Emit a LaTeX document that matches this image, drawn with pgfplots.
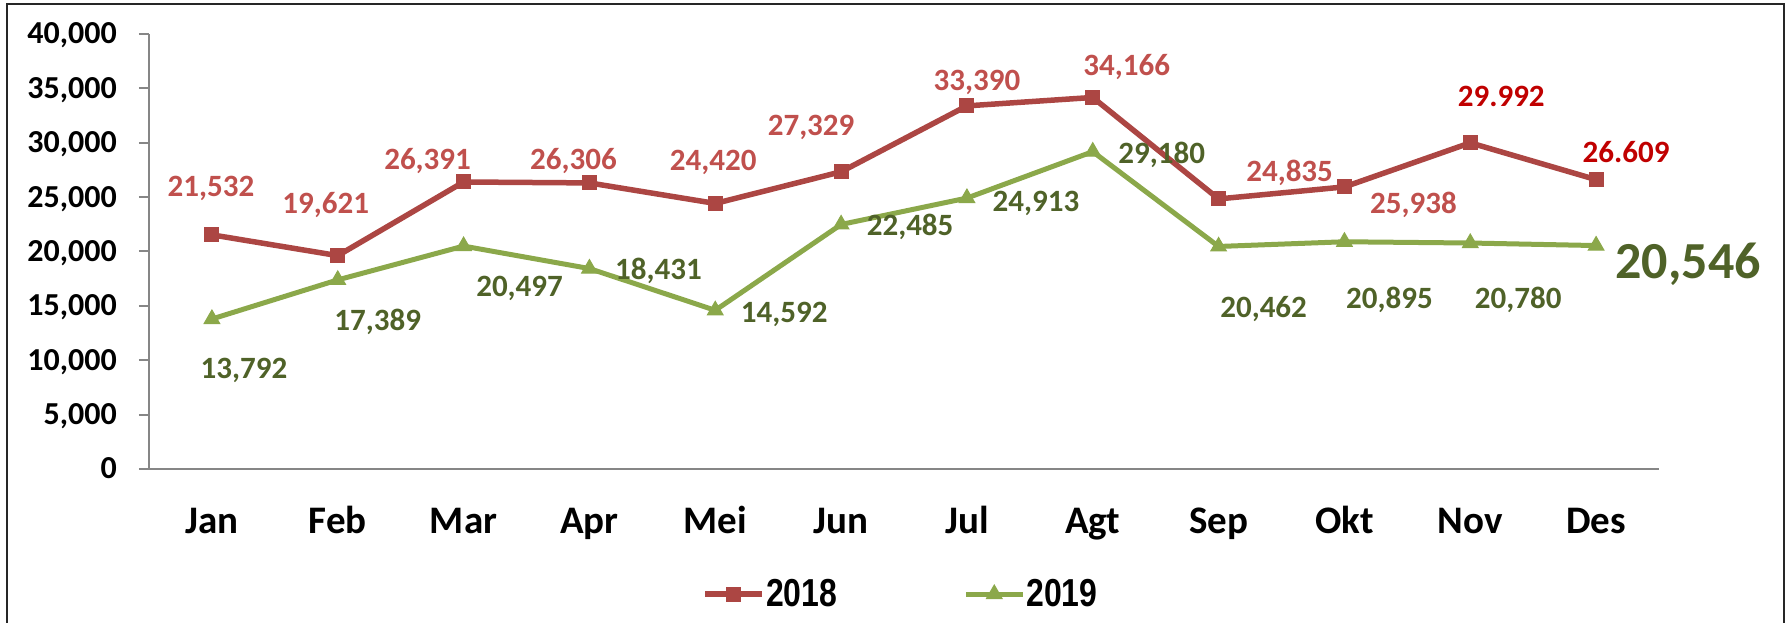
\documentclass[border=0pt]{standalone}
\usepackage{fontspec}
\setmainfont{Carlito}
\newfontfamily\narrowfont[FakeStretch=0.82]{Liberation Sans}
\usepackage{pgfplots}
\pgfplotsset{compat=1.18}
\usepackage{pgfplotstable}
\definecolor{c18}{RGB}{172,70,67}
\definecolor{c19}{RGB}{139,168,74}
\definecolor{l18}{RGB}{192,80,77}
\definecolor{lred}{RGB}{192,0,0}
\definecolor{l19}{RGB}{79,98,40}
\definecolor{axgray}{RGB}{134,134,134}

\pgfplotstableread{
x y
0 21532
1 19621
2 26391
3 26306
4 24420
5 27329
6 33390
7 34166
8 24835
9 25938
10 29992
11 26609
}\dA
\pgfplotstableread{
x y
0 13792
1 17389
2 20497
3 18431
4 14592
5 22485
6 24913
7 29180
8 20462
9 20895
10 20780
11 20546
}\dB
\pgfplotstableread{
x y dx up lab
0 21532 -1 48 21,532
1 19621 -12 52 19,621
2 26391 -36 22 26,391
3 26306 -16 23 26,306
4 24420 -2 43 24,420
5 27329 -30 46 27,329
6 33390 10 25 33,390
7 34166 34 32 34,166
8 24835 71 27 24,835
9 25938 69 -17 25,938
}\lA
\pgfplotstableread{
x y dx up lab
10 29992 31 46 29.992
11 26609 30 27 26.609
}\lAr
\pgfplotstableread{
x y dx up lab
0 13792 32 -49 13,792
1 17389 40 -41 17,389
2 20497 56 -40 20,497
3 18431 69 -1 18,431
4 14592 69 -2 14,592
5 22485 69 -1 22,485
6 24913 69 -3 24,913
7 29180 69 -2 29,180
8 20462 45 -61 20,462
9 20895 45 -57 20,895
10 20780 48 -55 20,780
}\lB
\pgfplotstableread{
x y dx up lab
11 20546 92 -16 20,546
}\lBbig

\begin{document}
\begin{tikzpicture}
\useasboundingbox (0,0) rectangle (1787pt,623pt);
\draw[black!85, line width=2.5pt] (7pt,-20pt) -- (7pt,619pt) -- (1784pt,619pt) -- (1784pt,-20pt);
\begin{axis}[
  at={(149pt,154pt)}, anchor=south west, scale only axis,
  width=1510pt, height=435pt,
  xmin=-0.5, xmax=11.5, ymin=0, ymax=40000,
  axis x line*=bottom, axis y line*=left,
  axis line style={axgray, line width=2pt},
  xtick={0,...,11},
  xticklabels={Jan,Feb,Mar,Apr,Mei,Jun,Jul,Agt,Sep,Okt,Nov,Des},
  xtick align=inside,
  xtick style={draw=none},
  ytick={0,5000,...,40000},
  ytick align=outside,
  ytick style={axgray, line width=2pt},
  major tick length=10pt,
  scaled y ticks=false,
  yticklabel style={font=\bfseries\fontsize{32}{32}\selectfont, anchor=east, inner sep=0pt, text height=20pt, text depth=0pt, xshift=-22pt, /pgf/number format/1000 sep={,}, /pgf/number format/assume math mode=true},
  xticklabel style={font=\bfseries\fontsize{39}{39}\selectfont, anchor=base, inner sep=0pt, yshift=-64pt},
  clip=false,
  legend style={at={(0.4977,-0.2874)}, anchor=center, draw=none, fill=none, legend columns=2,
    font=\narrowfont\bfseries\fontsize{39}{39}\selectfont,
    /tikz/every even column/.append style={column sep=125pt}, nodes={inner sep=1pt}},
  legend image code/.code={\draw[#1, mark repeat=2, mark phase=2] plot coordinates {(0pt,0pt) (28.5pt,0pt) (57pt,0pt)};},
]
\addplot[c18, line width=5.5pt, mark=square*, mark size=7pt, mark options={solid, line width=1pt, fill=c18}] table[x=x,y=y]{\dA};
\addlegendentry{2018}
\addplot[c19, line width=5pt, mark=triangle*, mark size=9pt, mark options={solid, line width=1pt, fill=c19}] table[x=x,y=y]{\dB};
\addlegendentry{2019}

\addplot[forget plot, draw=none, no markers, point meta=explicit symbolic, nodes near coords,
  visualization depends on={\thisrow{dx}\as\dx}, visualization depends on={\thisrow{up}\as\up},
  nodes near coords style={font=\bfseries\fontsize{31}{31}\selectfont, text=l18, anchor=center, inner sep=0pt, text height=20pt, text depth=0pt, xshift=\dx pt, yshift=\up pt}]
  table[x=x,y=y,meta=lab]{\lA};
\addplot[forget plot, draw=none, no markers, point meta=explicit symbolic, nodes near coords,
  visualization depends on={\thisrow{dx}\as\dx}, visualization depends on={\thisrow{up}\as\up},
  nodes near coords style={font=\bfseries\fontsize{31}{31}\selectfont, text=lred, anchor=center, inner sep=0pt, text height=20pt, text depth=0pt, xshift=\dx pt, yshift=\up pt}]
  table[x=x,y=y,meta=lab]{\lAr};
\addplot[forget plot, draw=none, no markers, point meta=explicit symbolic, nodes near coords,
  visualization depends on={\thisrow{dx}\as\dx}, visualization depends on={\thisrow{up}\as\up},
  nodes near coords style={font=\bfseries\fontsize{31}{31}\selectfont, text=l19, anchor=center, inner sep=0pt, text height=20pt, text depth=0pt, xshift=\dx pt, yshift=\up pt}]
  table[x=x,y=y,meta=lab]{\lB};
\addplot[forget plot, draw=none, no markers, point meta=explicit symbolic, nodes near coords,
  visualization depends on={\thisrow{dx}\as\dx}, visualization depends on={\thisrow{up}\as\up},
  nodes near coords style={font=\bfseries\fontsize{52}{52}\selectfont, text=l19, anchor=center, inner sep=0pt, text height=33pt, text depth=0pt, xshift=\dx pt, yshift=\up pt}]
  table[x=x,y=y,meta=lab]{\lBbig};
\end{axis}
\end{tikzpicture}
\end{document}
